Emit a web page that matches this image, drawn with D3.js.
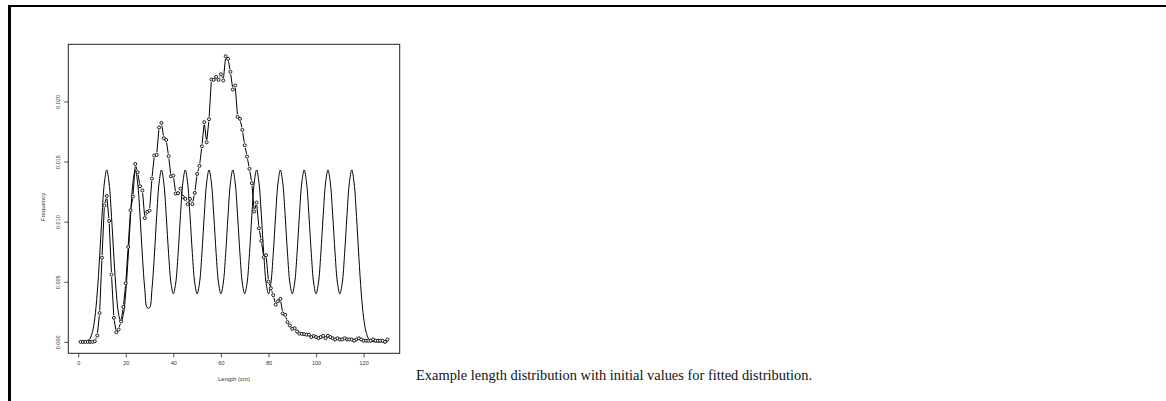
<!DOCTYPE html>
<html>
<head>
<meta charset="utf-8" />
<title>Length distribution</title>
<script src="https://cdnjs.cloudflare.com/ajax/libs/d3/7.8.5/d3.min.js"></script>
<style>
  body { margin: 0; background: white; }
  svg { display: block; }
  .axis text { font-family: "Liberation Sans", Arial, sans-serif; font-size: 5.5px; fill: #333; }
  .axis line { stroke: #222; stroke-width: 0.8; }
  .lab { font-family: "Liberation Sans", Arial, sans-serif; font-size: 6px; fill: #333; }
  .caption { font-family: "Liberation Serif", "Times New Roman", serif; font-size: 15.5px; fill: #111; }
</style>
</head>
<body>
<div id="graph"></div>
<script>
// bins, 1 cm each
var lengths = d3.range(1, 131);

// observed frequency per length
var observed = [
  0, 0, 0, 0, 0, 0, 0.00005, 0.00053, 0.0024, 0.0070,
  0.01134, 0.01214, 0.01006, 0.0056, 0.0020, 0.0008, 0.00103, 0.0017, 0.0029, 0.00488,
  0.0079, 0.01095, 0.01209, 0.0148, 0.0141, 0.01295, 0.01259, 0.01029, 0.01081, 0.01092,
  0.01358, 0.0155, 0.01555, 0.01783, 0.01821, 0.01694, 0.0168, 0.01544, 0.01378, 0.01383,
  0.01234, 0.01237, 0.01275, 0.01206, 0.01189, 0.01145, 0.01189, 0.01145, 0.01239, 0.01397,
  0.01464, 0.01627, 0.01827, 0.0166, 0.01852, 0.02182, 0.02179, 0.02204, 0.02179, 0.02226,
  0.02174, 0.02376, 0.02354, 0.02246, 0.02099, 0.02132, 0.01872, 0.01855, 0.01763, 0.01636,
  0.01541, 0.01439, 0.0132, 0.01084, 0.01159, 0.00945, 0.0084, 0.00704, 0.00721, 0.00502,
  0.00446, 0.00388, 0.0031, 0.00338, 0.00358, 0.00236, 0.00225, 0.00164, 0.00136, 0.00108,
  0.00114, 0.00086, 0.00069, 0.00067, 0.00064, 0.0006, 0.0006, 0.0004, 0.0005, 0.0004,
  0.0003, 0.0004, 0.0005, 0.0003, 0.0005, 0.0004, 0.0003, 0.0002, 0.0003, 0.0002,
  0.0002, 0.0003, 0.0002, 0.0002, 0.0002, 0.0001, 0.0002, 0.0003, 0.0002, 0.0001,
  0.0001, 0.0001, 0.0001, 0.0002, 0.0001, 0.0001, 0.0001, 0.0001, 0, 0.0002
];

// initial values for the fitted distribution, read at each length
var fitted = [
  0, 0.00001, 0.00002, 0.00009, 0.0003, 0.00084, 0.0020, 0.00406, 0.00704, 0.01044,
  0.01321, 0.0143, 0.01321, 0.01044, 0.00706, 0.00415, 0.0023, 0.00168, 0.0023, 0.00415,
  0.00706, 0.01044, 0.01321, 0.0143, 0.01321, 0.01046, 0.00713, 0.00436, 0.00284, 0.00284,
  0.00436, 0.00713, 0.01046, 0.01321, 0.0143, 0.01321, 0.01053, 0.00734, 0.0049, 0.0040,
  0.0049, 0.00734, 0.01053, 0.01323, 0.0143, 0.01323, 0.01053, 0.00734, 0.0049, 0.0040,
  0.0049, 0.00734, 0.01053, 0.01323, 0.0143, 0.01323, 0.01053, 0.00734, 0.0049, 0.0040,
  0.0049, 0.00734, 0.01053, 0.01323, 0.0143, 0.01323, 0.01053, 0.00734, 0.0049, 0.0040,
  0.0049, 0.00734, 0.01053, 0.01323, 0.0143, 0.01323, 0.01053, 0.00734, 0.0049, 0.0040,
  0.0049, 0.00734, 0.01053, 0.01323, 0.0143, 0.01323, 0.01053, 0.00734, 0.0049, 0.0040,
  0.0049, 0.00734, 0.01053, 0.01323, 0.0143, 0.01323, 0.01053, 0.00734, 0.0049, 0.0040,
  0.0049, 0.00734, 0.01053, 0.01323, 0.0143, 0.01323, 0.01053, 0.00734, 0.0049, 0.0040,
  0.0049, 0.00734, 0.01053, 0.01323, 0.0143, 0.01321, 0.01044, 0.00704, 0.00406, 0.0020,
  0.00084, 0.0003, 0.00009, 0.00002, 0, 0, 0, 0, 0, 0
];

var xTicks = [0, 20, 40, 60, 80, 100, 120];
var yTicks = [0, 0.005, 0.010, 0.015, 0.020];

var caption = "Example length distribution with initial values for fitted distribution.";

var W = 1166, H = 401;
// plot region edges (window.top is reserved, so use own names)
var plotL = 68.3, plotR = 399.7, plotT = 44.3, plotB = 353.3;

var svg = d3.select("#graph").append("svg")
  .attr("width", W)
  .attr("height", H);

// page frame
svg.append("line").attr("x1", 8).attr("x2", W).attr("y1", 6).attr("y2", 6)
  .style("stroke", "black").style("stroke-width", 2);
svg.append("line").attr("x1", 9.5).attr("x2", 9.5).attr("y1", 5).attr("y2", H)
  .style("stroke", "black").style("stroke-width", 3);

var xScale = d3.scaleLinear().domain([-4.16, 135.16]).range([plotL, plotR]);
var yScale = d3.scaleLinear().domain([-0.00095, 0.02475]).range([plotB, plotT]);

var xAxis = d3.axisBottom(xScale).tickValues(xTicks).tickSize(4).tickPadding(4)
  .tickFormat(d3.format("d"));
var yAxis = d3.axisLeft(yScale).tickValues(yTicks).tickSize(4)
  .tickFormat(d3.format(".3f"));

var gx = svg.append("g").attr("class", "axis")
  .attr("transform", "translate(0," + plotB + ")")
  .call(xAxis);
gx.select(".domain").remove();

var gy = svg.append("g").attr("class", "axis")
  .attr("transform", "translate(" + plotL + ",0)")
  .call(yAxis);
gy.select(".domain").remove();
gy.selectAll("text")
  .attr("transform", "rotate(-90)")
  .attr("x", 0).attr("y", -8.3).attr("dy", 0)
  .style("text-anchor", "middle");

// box
svg.append("rect")
  .attr("x", plotL).attr("y", plotT)
  .attr("width", plotR - plotL).attr("height", plotB - plotT)
  .style("fill", "none").style("stroke", "#222").style("stroke-width", 1);

svg.append("text").attr("class", "lab")
  .attr("x", (plotL + plotR) / 2).attr("y", 381)
  .style("text-anchor", "middle")
  .text("Length (cm)");

svg.append("text").attr("class", "lab")
  .attr("transform", "translate(44.8,207) rotate(-90)")
  .style("text-anchor", "middle")
  .text("Frequency");

// fitted curve
var line = d3.line()
  .x(function (d, i) { return xScale(lengths[i]); })
  .y(function (d) { return yScale(d); })
  .curve(d3.curveCatmullRom);

svg.append("path")
  .datum(fitted)
  .attr("d", line)
  .style("fill", "none")
  .style("stroke", "black")
  .style("stroke-width", 1);

// observed: points joined by segments that stop short of the circles
var pts = observed.map(function (d, i) {
  return { x: xScale(lengths[i]), y: yScale(d) };
});
var gap = 2.6;
var segs = [];
for (var i = 0; i < pts.length - 1; i++) {
  var a = pts[i], b = pts[i + 1];
  var dx = b.x - a.x, dy = b.y - a.y, len = Math.sqrt(dx * dx + dy * dy);
  if (len > 2 * gap + 0.5) {
    segs.push({
      x1: a.x + dx * gap / len, y1: a.y + dy * gap / len,
      x2: b.x - dx * gap / len, y2: b.y - dy * gap / len
    });
  }
}
svg.selectAll(".seg")
  .data(segs)
  .enter().append("line")
  .attr("class", "seg")
  .attr("x1", function (d) { return d.x1; })
  .attr("y1", function (d) { return d.y1; })
  .attr("x2", function (d) { return d.x2; })
  .attr("y2", function (d) { return d.y2; })
  .style("stroke", "black")
  .style("stroke-width", 1);

svg.selectAll(".dot")
  .data(pts)
  .enter().append("circle")
  .attr("class", "dot")
  .attr("cx", function (d) { return d.x; })
  .attr("cy", function (d) { return d.y; })
  .attr("r", 1.5)
  .style("fill", "white")
  .style("stroke", "black")
  .style("stroke-width", 0.9);

svg.append("text").attr("class", "caption")
  .attr("x", 416).attr("y", 380)
  .attr("textLength", 396)
  .attr("lengthAdjust", "spacingAndGlyphs")
  .text(caption);
</script>
</body>
</html>
